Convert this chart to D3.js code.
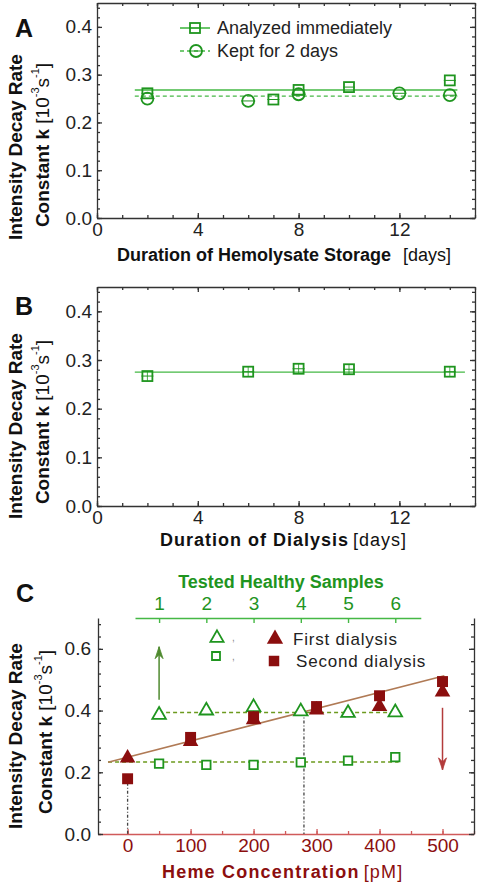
<!DOCTYPE html>
<html><head><meta charset="utf-8">
<script src="https://cdn.jsdelivr.net/npm/d3@7"></script>
<style>body{margin:0;background:#fff} svg{display:block} text{font-family:"Liberation Sans",Arial,sans-serif}</style>
</head><body><svg id="c" width="478" height="884"></svg>
<script>
// ---------- data ----------
const storageDaysImmediate = [2, 7, 8, 10, 14];
const storageKImmediate    = [0.261, 0.248, 0.268, 0.274, 0.288];
const storageDaysKept      = [2, 6, 8, 12, 14];
const storageKKept         = [0.250, 0.245, 0.259, 0.261, 0.257];
const storageFitImmediate  = 0.268;
const storageFitKept       = 0.255;
const storageFitRange      = [1.5, 14.3];
const dialysisDays = [2, 6, 8, 10, 14];
const dialysisK    = [0.267, 0.276, 0.282, 0.281, 0.276];
const dialysisFit  = 0.275;
const dialysisFitRange = [1.5, 14.6];
const hemeConc        = [0, 100, 200, 300, 400, 500];
const kFirstDialysis  = [0.246, 0.300, 0.370, 0.402, 0.413, 0.460];
const kSecondDialysis = [0.179, 0.313, 0.380, 0.413, 0.448, 0.494];
const healthySamples  = [1, 2, 3, 4, 5, 6];
const kHealthyFirst   = [0.386, 0.400, 0.411, 0.397, 0.392, 0.394];
const kHealthySecond  = [0.228, 0.224, 0.224, 0.232, 0.238, 0.249];
const healthyMeanFirst  = 0.394;
const healthyMeanSecond = 0.233;
const hemeFitIntercept = 0.249, hemeFitSlope = 0.000525, hemeFitRange = [-31, 503];
const dayTicks  = [0, 4, 8, 12];
const kTicksAB  = [0, 0.1, 0.2, 0.3, 0.4];
const kTicksC   = [0, 0.2, 0.4, 0.6];
const hemeTicks = [0, 100, 200, 300, 400, 500];
const legendA = ["Analyzed immediately", "Kept for 2 days"];
const legendC = ["First dialysis", "Second dialysis"];

// ---------- styles ----------
const GREEN = "#1f951f", GREEN_LINE = "#45b845", OLIVE = "#6c9a1e", DARKRED = "#8b0e0e";
const AXIS = "#333", FS = 19;
const svg = d3.select("#c");

function styleAxis(g, color, fs) {
  g.selectAll("path,line").attr("stroke", color).attr("stroke-width", 1.3);
  g.selectAll("text").attr("font-size", fs).attr("fill", null);
}
function frame(g, x, y, w, h, xMajor, xMinor, yMajor, yMinor, xFmt, yFmt, opt) {
  opt = opt || {};
  const bottomColor = opt.bottomColor || AXIS;
  const b = g.append("g").attr("transform", `translate(0,${h})`)
    .call(d3.axisBottom(x).tickValues(xMajor).tickFormat(xFmt).tickSizeInner(-5).tickSizeOuter(0).tickPadding(5));
  styleAxis(b, bottomColor, FS); b.selectAll("text").attr("fill", opt.bottomText || "#222");
  const bm = g.append("g").attr("transform", `translate(0,${h})`)
    .call(d3.axisBottom(x).tickValues(xMinor).tickFormat("").tickSizeInner(-3).tickSizeOuter(0));
  styleAxis(bm, bottomColor, FS); bm.select(".domain").remove();
  if (!opt.noTop) {
    const t = g.append("g").call(d3.axisTop(x).tickValues(xMajor).tickFormat("").tickSizeInner(-5).tickSizeOuter(0));
    styleAxis(t, AXIS, FS);
    const tm = g.append("g").call(d3.axisTop(x).tickValues(xMinor).tickFormat("").tickSizeInner(-3).tickSizeOuter(0));
    styleAxis(tm, AXIS, FS); tm.select(".domain").remove();
  }
  const l = g.append("g").call(d3.axisLeft(y).tickValues(yMajor).tickFormat(yFmt).tickSizeInner(-5).tickSizeOuter(0).tickPadding(opt.yPad || 5));
  styleAxis(l, AXIS, FS); l.selectAll("text").attr("fill", "#222");
  const lm = g.append("g").call(d3.axisLeft(y).tickValues(yMinor).tickFormat("").tickSizeInner(-3).tickSizeOuter(0));
  styleAxis(lm, AXIS, FS); lm.select(".domain").remove();
  const r = g.append("g").attr("transform", `translate(${w},0)`)
    .call(d3.axisRight(y).tickValues(yMajor).tickFormat("").tickSizeInner(-5).tickSizeOuter(0));
  styleAxis(r, AXIS, FS);
  const rm = g.append("g").attr("transform", `translate(${w},0)`)
    .call(d3.axisRight(y).tickValues(yMinor).tickFormat("").tickSizeInner(-3).tickSizeOuter(0));
  styleAxis(rm, AXIS, FS); rm.select(".domain").remove();
}
function yTitle(x1, cy1, x2, cy2, fs) {
  svg.append("text").attr("transform", `translate(${x1},${cy1}) rotate(-90)`)
    .attr("text-anchor", "middle").attr("dominant-baseline", "central")
    .attr("font-weight", "bold").attr("font-size", fs).attr("fill", "#111").text("Intensity Decay Rate");
  const t = svg.append("text").attr("transform", `translate(${x2},${cy2}) rotate(-90)`)
    .attr("text-anchor", "middle").attr("dominant-baseline", "central")
    .attr("font-size", fs).attr("fill", "#111");
  t.append("tspan").attr("font-weight", "bold").text("Constant k ");
  t.append("tspan").text("[10");
  t.append("tspan").attr("font-size", 11).attr("dy", -7).text("-3");
  t.append("tspan").attr("dy", 7).text("s");
  t.append("tspan").attr("font-size", 11).attr("dy", -7).text("-1");
  t.append("tspan").attr("dy", 7).text("]");
}
function openSquare(g, cx, cy, s, color) {
  g.append("rect").attr("x", cx - s / 2).attr("y", cy - s / 2).attr("width", s).attr("height", s)
    .attr("fill", "none").attr("stroke", color).attr("stroke-width", 1.8);
  g.append("line").attr("x1", cx - s / 2 - 1).attr("x2", cx + s / 2 + 1).attr("y1", cy).attr("y2", cy)
    .attr("stroke", color).attr("stroke-width", 1);
}
function openCircle(g, cx, cy, r, color) {
  g.append("circle").attr("cx", cx).attr("cy", cy).attr("r", r)
    .attr("fill", "none").attr("stroke", color).attr("stroke-width", 1.8);
  g.append("line").attr("x1", cx - r - 1).attr("x2", cx + r + 1).attr("y1", cy).attr("y2", cy)
    .attr("stroke", color).attr("stroke-width", 1);
}
const fmtK = d3.format(".1f");

// ================= Panel A =================
{
  const L = 97, T = 3, W = 378, H = 215;
  const g = svg.append("g").attr("transform", `translate(${L},${T})`);
  const x = d3.scaleLinear().domain([0, 15]).range([0, W]);
  const y = d3.scaleLinear().domain([0, 0.45]).range([H, 0]);
  frame(g, x, y, W, H, dayTicks, d3.range(0, 16, 1), kTicksAB, d3.range(0, 0.451, 0.02), d3.format("d"), fmtK);
  g.append("line").attr("x1", x(storageFitRange[0])).attr("x2", x(storageFitRange[1]))
    .attr("y1", y(storageFitImmediate)).attr("y2", y(storageFitImmediate))
    .attr("stroke", GREEN_LINE).attr("stroke-width", 1.6);
  g.append("line").attr("x1", x(storageFitRange[0])).attr("x2", x(storageFitRange[1]))
    .attr("y1", y(storageFitKept)).attr("y2", y(storageFitKept))
    .attr("stroke", GREEN_LINE).attr("stroke-width", 1.4).attr("stroke-dasharray", "4,3");
  storageDaysImmediate.forEach((d, i) => openSquare(g, x(d), y(storageKImmediate[i]), 10, GREEN));
  storageDaysKept.forEach((d, i) => openCircle(g, x(d), y(storageKKept[i]), 6, GREEN));
  // legend
  svg.append("line").attr("x1", 180).attr("x2", 210).attr("y1", 28).attr("y2", 28).attr("stroke", GREEN_LINE).attr("stroke-width", 1.6);
  openSquare(svg, 195, 28, 10, GREEN);
  svg.append("line").attr("x1", 180).attr("x2", 210).attr("y1", 51).attr("y2", 51).attr("stroke", GREEN_LINE).attr("stroke-width", 1.4).attr("stroke-dasharray", "4,3");
  openCircle(svg, 196, 51, 6, GREEN);
  legendA.forEach((t, i) => svg.append("text").attr("x", 217).attr("y", 28 + i * 23).attr("dominant-baseline", "central")
    .attr("font-size", 18).attr("fill", "#222").text(t));
  const xt = svg.append("text").attr("x", 117).attr("y", 255).attr("dominant-baseline", "central").attr("font-size", 18).attr("fill", "#111");
  xt.append("tspan").attr("font-weight", "bold").text("Duration of Hemolysate Storage");
  xt.append("tspan").attr("dx", 12).text("[days]");
  yTitle(15, 147, 42, 145, 19);
  svg.append("text").attr("x", 24).attr("y", 28).attr("text-anchor", "middle").attr("dominant-baseline", "central")
    .attr("font-size", 25).attr("font-weight", "bold").attr("fill", "#111").text("A");
}

// ================= Panel B =================
{
  const L = 97, T = 287, W = 378, H = 219;
  const g = svg.append("g").attr("transform", `translate(${L},${T})`);
  const x = d3.scaleLinear().domain([0, 15]).range([0, W]);
  const y = d3.scaleLinear().domain([0, 0.45]).range([H, 0]);
  frame(g, x, y, W, H, dayTicks, d3.range(0, 16, 1), kTicksAB, d3.range(0, 0.451, 0.02), d3.format("d"), fmtK);
  g.append("line").attr("x1", x(dialysisFitRange[0])).attr("x2", x(dialysisFitRange[1]))
    .attr("y1", y(dialysisFit)).attr("y2", y(dialysisFit))
    .attr("stroke", GREEN_LINE).attr("stroke-width", 1.4);
  dialysisDays.forEach((d, i) => {
    const cx = x(d), cy = y(dialysisK[i]);
    openSquare(g, cx, cy, 10, GREEN);
    g.append("line").attr("x1", cx).attr("x2", cx).attr("y1", cy - 5).attr("y2", cy + 5).attr("stroke", GREEN).attr("stroke-width", 0.8);
  });
  const xt = svg.append("text").attr("x", 160).attr("y", 540).attr("dominant-baseline", "central")
    .attr("font-size", 18).attr("letter-spacing", 1).attr("fill", "#111");
  xt.append("tspan").attr("font-weight", "bold").text("Duration of Dialysis");
  xt.append("tspan").attr("dx", 4).text("[days]");
  yTitle(15, 426, 42, 422, 19);
  svg.append("text").attr("x", 24).attr("y", 306).attr("text-anchor", "middle").attr("dominant-baseline", "central")
    .attr("font-size", 25).attr("font-weight", "bold").attr("fill", "#111").text("B");
}

// ================= Panel C =================
{
  const L = 98, T = 618, W = 376, H = 216;
  const g = svg.append("g").attr("transform", `translate(${L},${T})`);
  const x = d3.scaleLinear().domain([-47, 550]).range([0, W]);
  const y = d3.scaleLinear().domain([0, 0.7]).range([H, 0]);
  frame(g, x, y, W, H, hemeTicks, d3.range(0, 551, 50), kTicksC, d3.range(0, 0.7, 0.04), d3.format("d"), fmtK,
        { noTop: true, bottomColor: "#d05a5a", bottomText: DARKRED, yPad: 7 });
  const s = d3.scaleLinear().domain([1, 6]).range([x(50), x(425)]);
  const sAxis = s.copy().domain([0.49, 6.54]).range([s(0.49), s(6.54)]);
  const ta = g.append("g").call(d3.axisTop(sAxis).tickValues(healthySamples).tickFormat(d3.format("d"))
    .tickSizeInner(-5).tickSizeOuter(0).tickPadding(8));
  ta.selectAll("path,line").attr("stroke", GREEN_LINE).attr("stroke-width", 1.4);
  ta.selectAll("text").attr("font-size", FS).attr("fill", GREEN);
  svg.append("text").attr("x", 281).attr("y", 582).attr("text-anchor", "middle").attr("dominant-baseline", "central")
    .attr("font-size", 18).attr("font-weight", "bold").attr("fill", GREEN).text("Tested Healthy Samples");

  g.append("line").attr("x1", s(1)).attr("x2", s(6.07)).attr("y1", y(healthyMeanFirst)).attr("y2", y(healthyMeanFirst))
    .attr("stroke", OLIVE).attr("stroke-width", 1.5).attr("stroke-dasharray", "4,3");
  g.append("line").attr("x1", x(hemeFitRange[0])).attr("x2", s(6.07)).attr("y1", y(healthyMeanSecond)).attr("y2", y(healthyMeanSecond))
    .attr("stroke", OLIVE).attr("stroke-width", 1.5).attr("stroke-dasharray", "4,3");
  g.append("line").attr("x1", x(0)).attr("x2", x(0)).attr("y1", y(0.166)).attr("y2", H)
    .attr("stroke", "#444").attr("stroke-width", 1.3).attr("stroke-dasharray", "3,2,1,2");
  g.append("line").attr("x1", x(280)).attr("x2", x(280)).attr("y1", y(healthyMeanFirst)).attr("y2", H)
    .attr("stroke", "#444").attr("stroke-width", 1.3).attr("stroke-dasharray", "3,2,1,2");
  g.append("line").attr("x1", x(hemeFitRange[0])).attr("x2", x(hemeFitRange[1]))
    .attr("y1", y(hemeFitIntercept + hemeFitSlope * hemeFitRange[0]))
    .attr("y2", y(hemeFitIntercept + hemeFitSlope * hemeFitRange[1]))
    .attr("stroke", "#b07a55").attr("stroke-width", 1.6);

  const tri = (sz) => d3.symbol().type(d3.symbolTriangle).size(sz)();
  const sq = (sz) => d3.symbol().type(d3.symbolSquare).size(sz)();
  healthySamples.forEach((d, i) => {
    g.append("path").attr("d", tri(80)).attr("transform", `translate(${s(d)},${y(kHealthyFirst[i])})`)
      .attr("fill", "#fff").attr("stroke", GREEN).attr("stroke-width", 1.8);
    g.append("path").attr("d", sq(72)).attr("transform", `translate(${s(d)},${y(kHealthySecond[i])})`)
      .attr("fill", "#fff").attr("stroke", GREEN).attr("stroke-width", 1.8);
  });
  hemeConc.forEach((d, i) => {
    g.append("path").attr("d", sq(120)).attr("transform", `translate(${x(d)},${y(kSecondDialysis[i])})`).attr("fill", DARKRED);
    g.append("path").attr("d", tri(105)).attr("transform", `translate(${x(d)},${y(kFirstDialysis[i])})`).attr("fill", DARKRED);
  });
  function arrow(x0, y0, y1, color) {
    g.append("line").attr("x1", x0).attr("x2", x0).attr("y1", y0).attr("y2", y1).attr("stroke", color).attr("stroke-width", 1.5);
    const dir = y1 < y0 ? 1 : -1;
    g.append("path").attr("d", `M${x0},${y1} L${x0 - 4},${y1 + dir * 12} L${x0},${y1 + dir * 8} L${x0 + 4},${y1 + dir * 12} Z`)
      .attr("fill", color).attr("stroke", color).attr("stroke-width", 0.8);
  }
  arrow(s(1), y(0.435), y(0.607), "#4f8a2f");
  arrow(x(500), y(0.409), y(0.208), "#b33b3b");

  svg.append("path").attr("d", tri(75)).attr("transform", "translate(217,638)").attr("fill", "#fff").attr("stroke", GREEN).attr("stroke-width", 1.8);
  svg.append("path").attr("d", sq(64)).attr("transform", "translate(216,656)").attr("fill", "#fff").attr("stroke", GREEN).attr("stroke-width", 1.8);
  svg.append("text").attr("x", 232).attr("y", 641).attr("font-size", 10).attr("fill", "#888").text(",");
  svg.append("text").attr("x", 232).attr("y", 660).attr("font-size", 10).attr("fill", "#888").text(",");
  svg.append("path").attr("d", tri(115)).attr("transform", "translate(275,639)").attr("fill", DARKRED);
  svg.append("path").attr("d", sq(110)).attr("transform", "translate(274,661)").attr("fill", DARKRED);
  svg.append("text").attr("x", 293).attr("y", 639).attr("dominant-baseline", "central").attr("font-size", 17)
    .attr("letter-spacing", 0.8).attr("fill", "#222").text(legendC[0]);
  svg.append("text").attr("x", 296).attr("y", 661).attr("dominant-baseline", "central").attr("font-size", 17)
    .attr("letter-spacing", 0.8).attr("fill", "#222").text(legendC[1]);

  const xt = svg.append("text").attr("x", 162).attr("y", 872).attr("dominant-baseline", "central")
    .attr("font-size", 18).attr("letter-spacing", 1.2).attr("fill", DARKRED);
  xt.append("tspan").attr("font-weight", "bold").text("Heme Concentration");
  xt.append("tspan").attr("dx", 4).text("[pM]");
  yTitle(15, 736, 45, 732, 19);
  svg.append("text").attr("x", 25).attr("y", 593).attr("text-anchor", "middle").attr("dominant-baseline", "central")
    .attr("font-size", 25).attr("font-weight", "bold").attr("fill", "#111").text("C");
}
</script></body></html>
